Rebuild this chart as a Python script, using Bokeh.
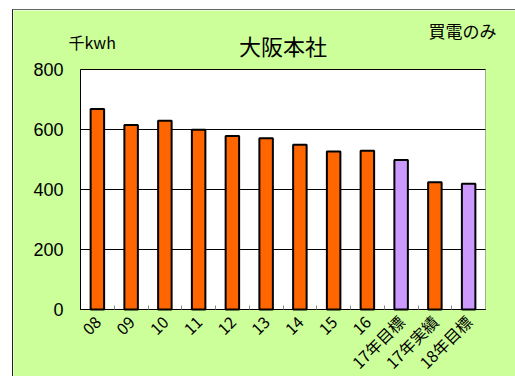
from bokeh.plotting import figure
from bokeh.models import Range1d, FixedTicker, Label, ColumnDataSource, BoxAnnotation
from bokeh.embed import file_html
from bokeh.resources import INLINE

categories = ["08", "09", "10", "11", "12", "13", "14", "15", "16", "17年目標", "17年実績", "18年目標"]
values = [668, 615, 629, 599, 578, 571, 549, 527, 529, 498, 424, 419]
kinds = ["実績"] * 9 + ["目標", "実績", "目標"]
y_ticks = [0, 200, 400, 600, 800]

color_map = {"実績": "#FF6600", "目標": "#CC99FF"}
xs = list(range(len(categories)))
src = ColumnDataSource(dict(x=xs, top=values, color=[color_map[k] for k in kinds], cat=categories))

GREEN = "#CCFF99"
JP = "Noto Sans CJK JP"

# layout geometry (pixels inside the 503x367 canvas)
W, H = 503, 367
AREA_L, AREA_R, AREA_T, AREA_B = 67, 472, 59, 299
n = len(categories)
ppu_x = (AREA_R - AREA_L) / n
ppu_y = (AREA_B - AREA_T) / y_ticks[-1]
x_lo, x_hi = -0.5, n - 0.5
x_range = Range1d(x_lo - AREA_L / ppu_x, x_hi + (W - AREA_R) / ppu_x)
y_range = Range1d(-(H - AREA_B) / ppu_y, y_ticks[-1] + AREA_T / ppu_y)

p = figure(width=W, height=H, output_backend="svg", toolbar_location=None,
           x_range=x_range, y_range=y_range,
           min_border_left=0, min_border_right=0, min_border_top=0, min_border_bottom=0,
           margin=(9, 0, 0, 12))
p.styles = {"border-top": "1px solid #666666", "border-left": "1px solid #222222"}
p.border_fill_color = GREEN
p.background_fill_color = GREEN
p.outline_line_color = None

# white plot area
p.add_layout(BoxAnnotation(left=x_lo, right=x_hi, bottom=0, top=y_ticks[-1],
                           fill_color="white", fill_alpha=1.0,
                           line_color="black", line_width=1, level="underlay"))

# horizontal gridlines inside the plot area
p.segment(x0=[x_lo] * len(y_ticks), x1=[x_hi] * len(y_ticks), y0=y_ticks, y1=y_ticks,
          line_color="black", line_width=1)

p.vbar(x="x", top="top", width=0.4, bottom=0, source=src,
       fill_color="color", line_color="black", line_width=2)

# axes
p.xaxis.fixed_location = 0
p.xaxis.ticker = FixedTicker(ticks=xs, minor_ticks=[i + 0.5 for i in xs[:-1]])
p.xaxis.major_label_overrides = {i: c for i, c in zip(xs, categories)}
p.xaxis.bounds = (x_lo, x_hi)
p.xaxis.major_label_orientation = 0.785398
p.xaxis.major_tick_in = 0
p.xaxis.major_tick_out = 0
p.xaxis.minor_tick_in = 4
p.xaxis.minor_tick_out = 0
p.xaxis.minor_tick_line_color = "#888888"
p.xaxis.axis_line_color = "black"
p.xaxis.major_label_text_font = JP
p.xaxis.major_label_text_font_size = "16px"
p.xaxis.major_label_text_color = "black"
p.xaxis.major_label_standoff = 9

p.yaxis.fixed_location = x_lo
p.yaxis.bounds = (0, y_ticks[-1])
p.yaxis.ticker = FixedTicker(ticks=y_ticks)
p.yaxis.major_tick_in = 0
p.yaxis.major_tick_out = 0
p.yaxis.minor_tick_line_color = None
p.yaxis.axis_line_color = "black"
p.yaxis.major_label_text_font = "Liberation Sans"
p.yaxis.major_label_text_font_size = "18px"
p.yaxis.major_label_text_color = "black"
p.yaxis.major_label_standoff = 17

p.xgrid.grid_line_color = None
p.ygrid.grid_line_color = None

# texts (data units, inside the frame)
p.add_layout(Label(x=(n - 1) / 2, y=883, text="大阪本社", text_font=JP, text_font_size="22px",
                   text_align="center", text_baseline="middle", text_color="black"))
p.add_layout(Label(x=-0.856, y=892, text="千kwh", text_font=JP, text_font_size="16px",
                   text_align="left", text_baseline="middle", text_color="black"))
p.add_layout(Label(x=9.81, y=930, text="買電のみ", text_font=JP, text_font_size="17px",
                   text_align="left", text_baseline="middle", text_color="black"))

open("out.html", "w").write(file_html(p, INLINE))
